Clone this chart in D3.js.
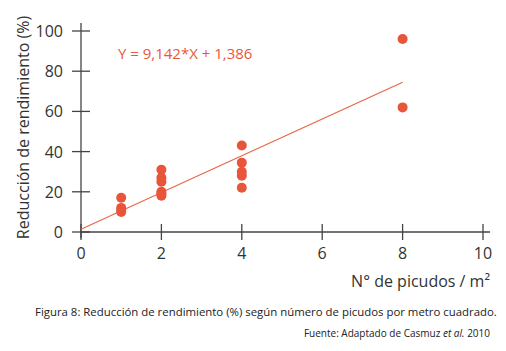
<!DOCTYPE html>
<html>
<head>
<meta charset="utf-8">
<script src="https://cdn.jsdelivr.net/npm/d3@7"></script>
<style>
  body { margin: 0; background: #fff; }
  text { font-family: "Open Sans", sans-serif; }
</style>
</head>
<body>
<div id="chart"></div>
<script>
// data
const picudos = [1, 1, 1, 1, 2, 2, 2, 2, 2, 2, 4, 4, 4, 4, 4, 8, 8];
const reduccion = [17, 12, 11, 10, 31, 27, 25, 20, 19, 18, 43, 34.5, 30, 28, 22, 96, 62];
const xTicks = [0, 2, 4, 6, 8, 10];
const yTicks = [0, 20, 40, 60, 80, 100];
const slope = 9.142, intercept = 1.386;
const lineRange = [0, 8];

const W = 506, H = 351;
const dotColor = "#e8553a";

const svg = d3.select("#chart").append("svg")
  .attr("width", W).attr("height", H);

const x = d3.scaleLinear().domain([0, 10]).range([81, 483]);
const y = d3.scaleLinear().domain([0, 100]).range([232, 31]);

// axes (ticks crossing the axis line)
const axisCol = "#444";
svg.append("line")
  .attr("x1", x(0)).attr("x2", 490)
  .attr("y1", y(0)).attr("y2", y(0))
  .attr("stroke", axisCol).attr("stroke-width", 1.3);
svg.append("line")
  .attr("x1", x(0)).attr("x2", x(0))
  .attr("y1", 23).attr("y2", y(0) + 6)
  .attr("stroke", axisCol).attr("stroke-width", 1.3);

svg.append("g").selectAll("line").data(xTicks).join("line")
  .attr("x1", d => x(d)).attr("x2", d => x(d))
  .attr("y1", y(0) - 8).attr("y2", y(0) + 8)
  .attr("stroke", axisCol).attr("stroke-width", 1.3);
svg.append("g").selectAll("line").data(yTicks).join("line")
  .attr("x1", x(0) - 9).attr("x2", x(0) + 9)
  .attr("y1", d => y(d)).attr("y2", d => y(d))
  .attr("stroke", axisCol).attr("stroke-width", 1.3);

svg.append("g").selectAll("text").data(xTicks).join("text")
  .attr("x", d => x(d)).attr("y", 259)
  .attr("text-anchor", "middle")
  .attr("font-size", 16).attr("fill", "#333")
  .text(d => d);
svg.append("g").selectAll("text").data(yTicks).join("text")
  .attr("x", 63).attr("y", d => y(d) + 6)
  .attr("text-anchor", "end")
  .attr("font-size", 16).attr("fill", "#333")
  .text(d => d);

// axis titles
svg.append("text")
  .attr("transform", `translate(29, ${(y(0) + 23) / 2}) rotate(-90)`)
  .attr("text-anchor", "middle")
  .attr("font-size", 16).attr("fill", "#333")
  .text("Reducción de rendimiento (%)");
svg.append("text")
  .attr("x", 490).attr("y", 287)
  .attr("text-anchor", "end")
  .attr("font-size", 16).attr("fill", "#333")
  .text("N° de picudos / m²");

// regression line
svg.append("line")
  .attr("x1", x(lineRange[0])).attr("y1", y(slope * lineRange[0] + intercept))
  .attr("x2", x(lineRange[1])).attr("y2", y(slope * lineRange[1] + intercept))
  .attr("stroke", "#e8664a").attr("stroke-width", 1.2);

svg.append("text")
  .attr("x", 118).attr("y", 59)
  .attr("font-size", 15).attr("fill", "#e8573a")
  .text("Y = 9,142*X + 1,386");

// points
svg.append("g").selectAll("circle").data(picudos).join("circle")
  .attr("cx", d => x(d))
  .attr("cy", (d, i) => y(reduccion[i]))
  .attr("r", 5)
  .attr("fill", dotColor);

// caption and source
svg.append("text")
  .attr("x", 35).attr("y", 316)
  .attr("font-size", 11.4).attr("fill", "#222")
  .text("Figura 8: Reducción de rendimiento (%) según número de picudos por metro cuadrado.");
const src = svg.append("text")
  .attr("x", 490).attr("y", 337)
  .attr("text-anchor", "end")
  .attr("font-size", 10).attr("fill", "#222");
src.append("tspan").text("Fuente: Adaptado de Casmuz ");
src.append("tspan").attr("font-style", "italic").text("et al.");
src.append("tspan").text(" 2010");
</script>
</body>
</html>
